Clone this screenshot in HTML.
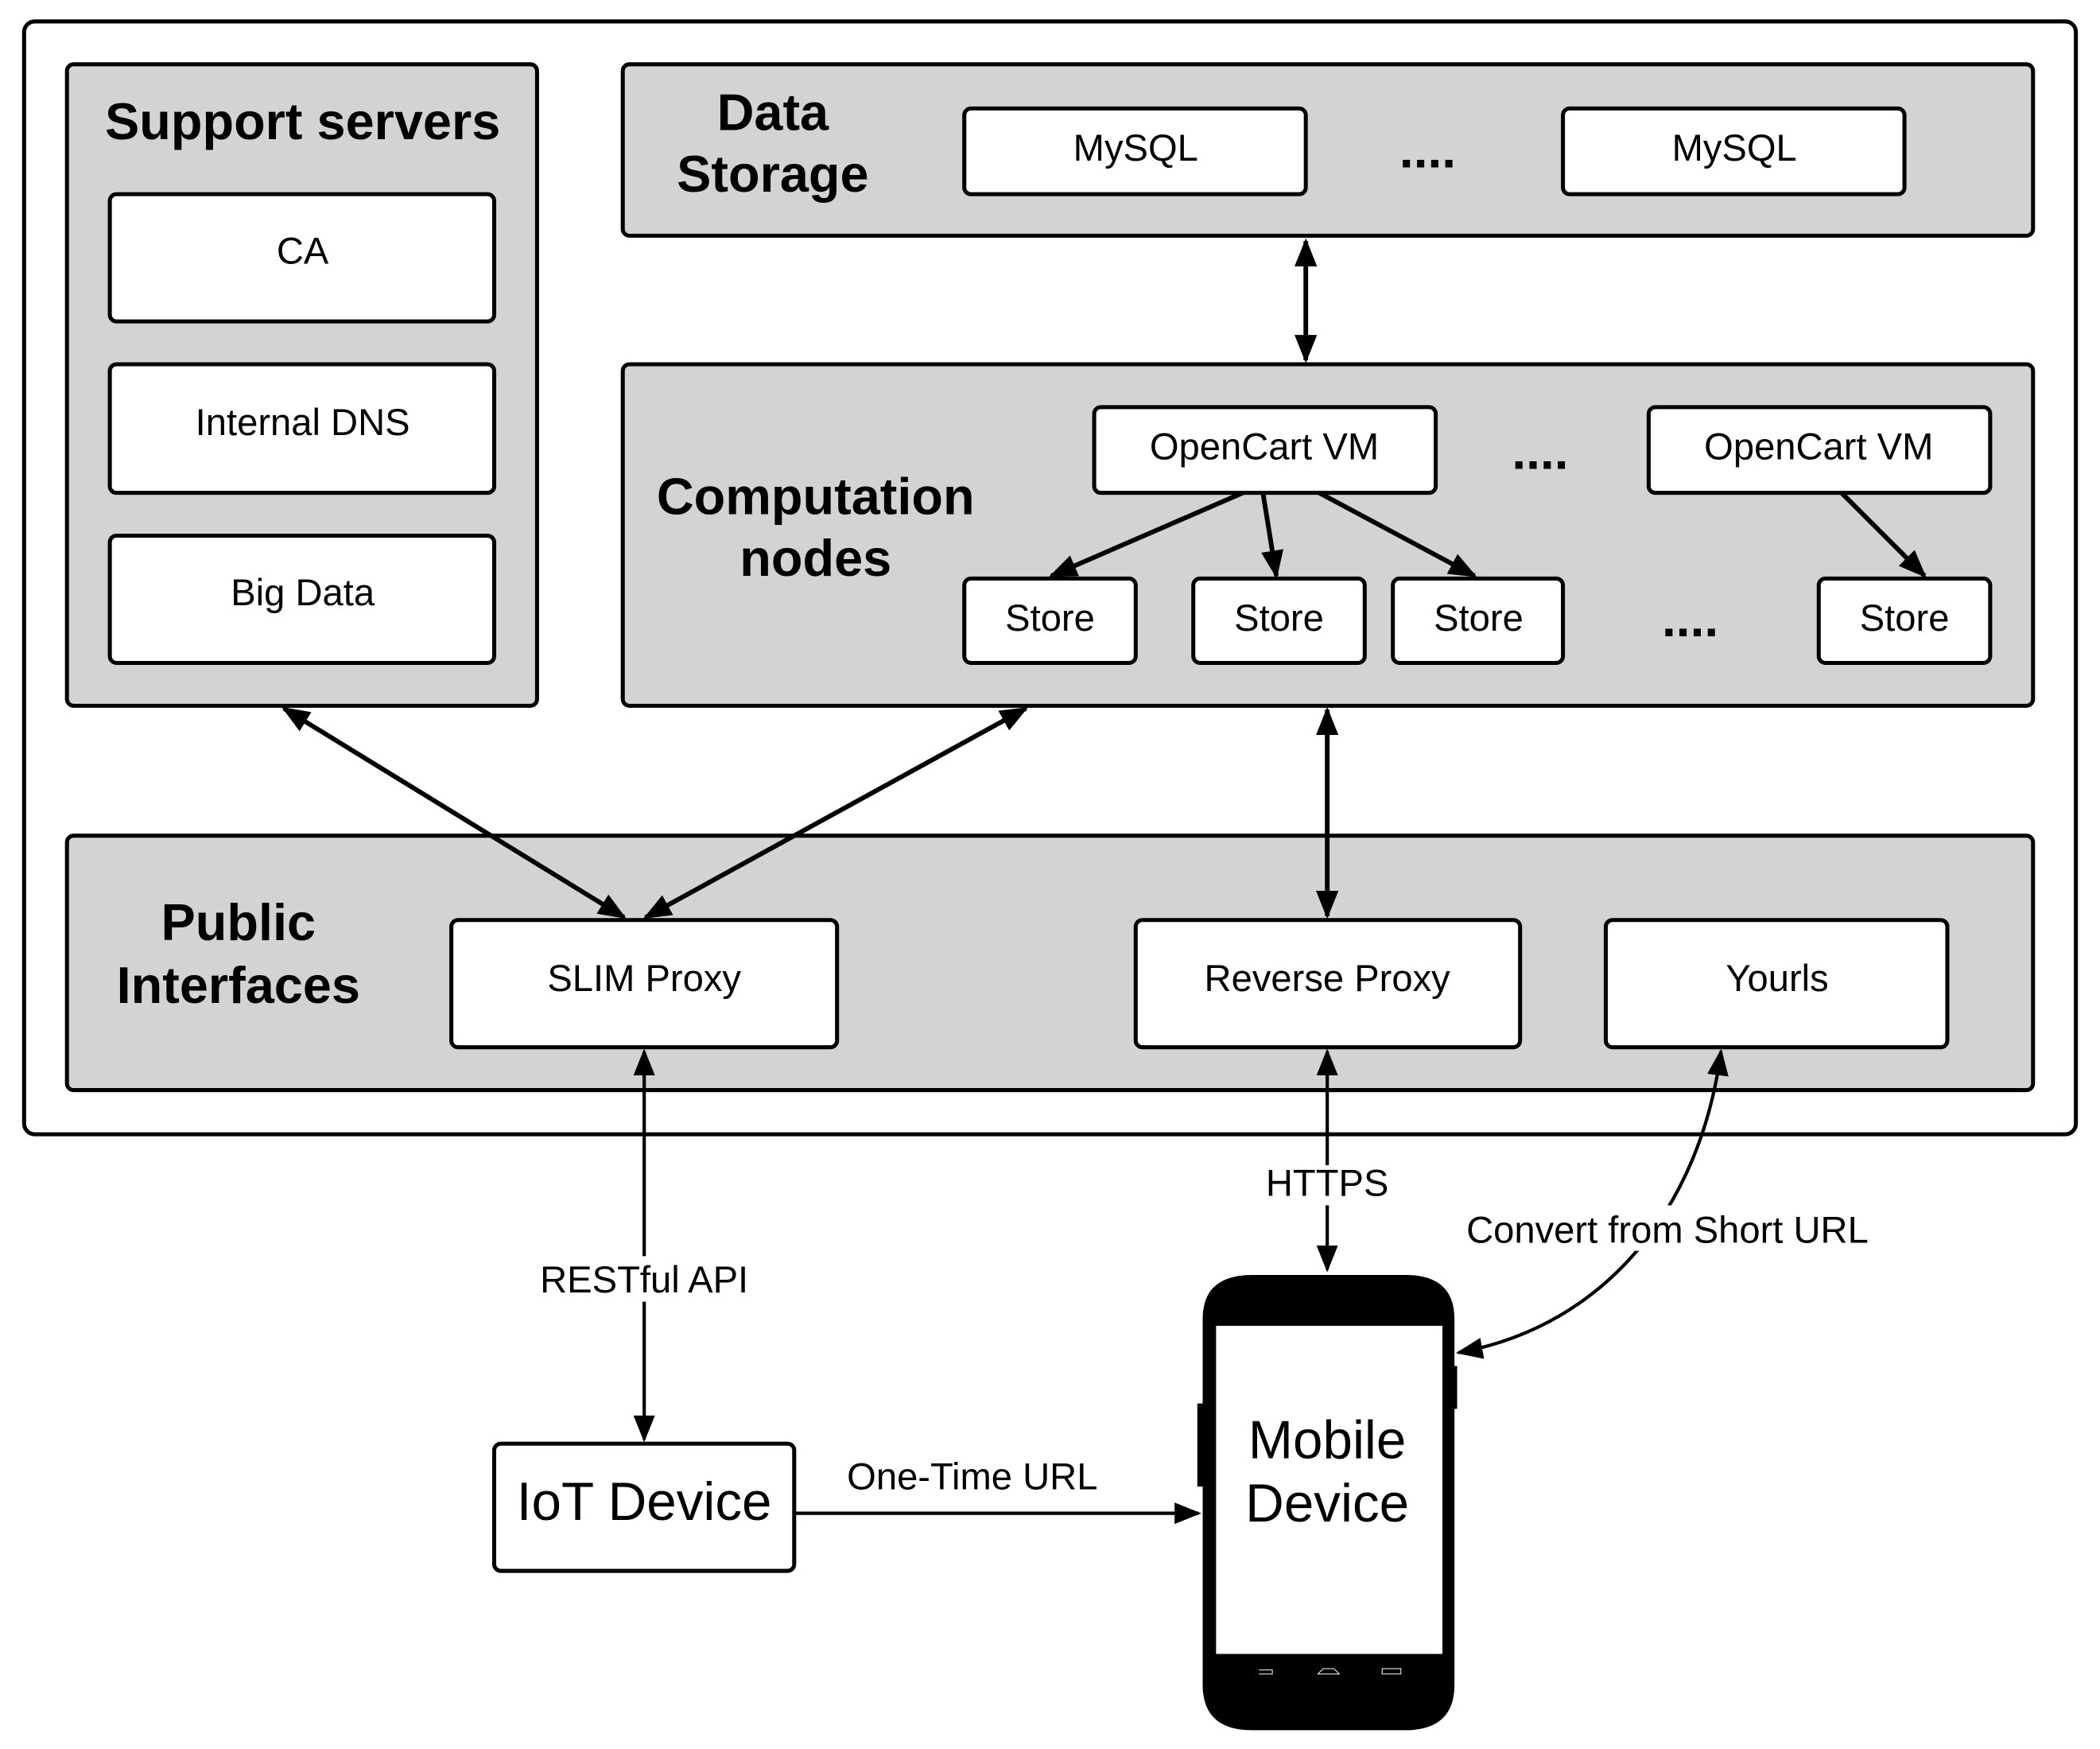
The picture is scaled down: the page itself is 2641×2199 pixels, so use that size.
<!DOCTYPE html>
<html><head><meta charset="utf-8"><style>html,body{margin:0;padding:0;background:#fff}svg{display:block}</style></head>
<body>
<svg width="2641" height="2199" viewBox="0 0 1568 1306" preserveAspectRatio="none" xmlns="http://www.w3.org/2000/svg" font-family="Liberation Sans, sans-serif">
<defs>
<marker id="a" viewBox="0 0 10 10" refX="9" refY="5" markerWidth="6" markerHeight="6" orient="auto-start-reverse"><path d="M0,1 L10,5 L0,9 z" fill="#000"/></marker>
<marker id="b" viewBox="0 0 10 10" refX="9" refY="5" markerWidth="8" markerHeight="8" orient="auto-start-reverse"><path d="M0,1 L10,5 L0,9 z" fill="#000"/></marker>
</defs>
<rect x="18" y="16" width="1532" height="831" rx="8" fill="#fff" stroke="#000" stroke-width="3"/>
<g fill="#d3d3d3" stroke="#000" stroke-width="3">
<rect x="50" y="48" width="351" height="479" rx="5"/>
<rect x="465" y="48" width="1053" height="128" rx="5"/>
<rect x="465" y="272" width="1053" height="255" rx="5"/>
<rect x="50" y="624" width="1468" height="190" rx="5"/>
</g>
<g fill="#fff" stroke="#000" stroke-width="3">
<rect x="82" y="145" width="287" height="95" rx="5"/>
<rect x="82" y="272" width="287" height="96" rx="5"/>
<rect x="82" y="400" width="287" height="95" rx="5"/>
<rect x="720" y="81" width="255" height="64" rx="5"/>
<rect x="1167" y="81" width="255" height="64" rx="5"/>
<rect x="817" y="304" width="255" height="64" rx="5"/>
<rect x="1231" y="304" width="255" height="64" rx="5"/>
<rect x="720" y="432" width="128" height="63" rx="5"/>
<rect x="891" y="432" width="128" height="63" rx="5"/>
<rect x="1040" y="432" width="127" height="63" rx="5"/>
<rect x="1358" y="432" width="128" height="63" rx="5"/>
<rect x="337" y="687" width="288" height="95" rx="5"/>
<rect x="848" y="687" width="287" height="95" rx="5"/>
<rect x="1199" y="687" width="255" height="95" rx="5"/>
<rect x="369" y="1078" width="224" height="95" rx="5"/>
</g>
<!-- phone -->
<path d="M898,985 Q898,952 935,952 L1049,952 Q1086,952 1086,985 L1086,1258 Q1086,1292 1049,1292 L935,1292 Q898,1292 898,1258 Z" fill="#000"/>
<rect x="894" y="1048" width="8" height="62" fill="#000"/>
<rect x="1082" y="1020" width="6" height="32" fill="#000"/>
<rect x="908" y="990" width="169" height="245" fill="#fff"/>
<g stroke="#fff" stroke-width="0.6" fill="none"><path d="M940,1247 h10 v3 h-10"/><path d="M984,1250 l4,-4 h8 l4,4 z"/><rect x="1032" y="1246" width="14" height="4"/></g>
<g font-weight="bold" font-size="38.5" text-anchor="middle" fill="#000">
<text x="226" y="104">Support servers</text>
<text x="577" y="97">Data</text><text x="577" y="143">Storage</text>
<text x="609" y="384">Computation</text><text x="609" y="430">nodes</text>
<text x="178" y="702">Public</text><text x="178" y="749">Interfaces</text>
</g>
<g font-size="28" text-anchor="middle" fill="#000">
<text x="226" y="197">CA</text>
<text x="226" y="325">Internal DNS</text>
<text x="226" y="452">Big Data</text>
<text x="848" y="120">MySQL</text>
<text x="1295" y="120">MySQL</text>
<text x="944" y="343">OpenCart VM</text>
<text x="1358" y="343">OpenCart VM</text>
<text x="784" y="471">Store</text>
<text x="955" y="471">Store</text>
<text x="1104" y="471">Store</text>
<text x="1422" y="471">Store</text>
<text x="481" y="740">SLIM Proxy</text>
<text x="991" y="740">Reverse Proxy</text>
<text x="1327" y="740">Yourls</text>
</g>
<g font-size="40" text-anchor="middle" fill="#000">
<text x="481" y="1135">IoT Device</text>
<text x="991" y="1089">Mobile</text><text x="991" y="1136">Device</text>
</g>
<g font-size="38" font-weight="bold" text-anchor="middle"><text x="1066" y="125">....</text><text x="1150" y="350">....</text><text x="1262" y="475">....</text></g>
<g stroke="#000" stroke-width="3.5" fill="none" marker-end="url(#a)">
<line x1="975" y1="180" x2="975" y2="269" marker-start="url(#a)"/>
<line x1="212" y1="529" x2="466" y2="685" marker-start="url(#a)"/>
<line x1="766" y1="529" x2="482" y2="685" marker-start="url(#a)"/>
<line x1="991" y1="530" x2="991" y2="684" marker-start="url(#a)"/>
<line x1="928" y1="368" x2="785" y2="430"/>
<line x1="943" y1="368" x2="953" y2="430"/>
<line x1="985" y1="368" x2="1101" y2="430"/>
<line x1="1375" y1="368" x2="1437" y2="430"/>
</g>
<g stroke="#000" stroke-width="2.5" fill="none" marker-end="url(#b)">
<line x1="481" y1="785" x2="481" y2="1075" marker-start="url(#b)"/>
<line x1="991" y1="785" x2="991" y2="948" marker-start="url(#b)"/>
<line x1="593" y1="1130" x2="895" y2="1130"/>
<path d="M1285,785 C1270,900 1200,990 1089,1010" marker-start="url(#b)"/>
</g>
<rect x="938" y="870" width="106" height="30" fill="#fff"/><text x="991" y="893" font-size="28" text-anchor="middle">HTTPS</text>
<rect x="396" y="938" width="170" height="34" fill="#fff"/><text x="481" y="965" font-size="28" text-anchor="middle">RESTful API</text>
<rect x="1088" y="900" width="314" height="34" fill="#fff"/><text x="1245" y="928" font-size="28" text-anchor="middle">Convert from Short URL</text>
<text x="726" y="1112" font-size="28" text-anchor="middle">One-Time URL</text>
</svg>
</body></html>
